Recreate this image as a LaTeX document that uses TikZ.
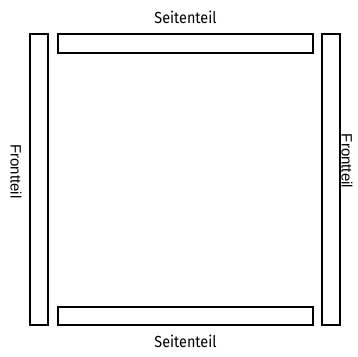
\documentclass[tikz,border=0pt]{standalone}
\usepackage{fontspec}
\setmainfont{Fira Sans}[FakeStretch = 0.9]
\newfontfamily\frontfont{Liberation Sans}
\tikzstyle{part}=[draw, line width = 1.4pt, inner sep = 0pt]
\tikzstyle{side}=[font = \fontsize{16}{18}\selectfont]
\tikzstyle{front}=[font = \frontfont\fontsize{15}{17}\selectfont, rotate = -90]

\begin{document}
\begin{tikzpicture}[x = 1pt, y = -1pt]
\useasboundingbox (0,0) rectangle (358,356);
\draw(39,179.5) node[part, minimum width = 18pt, minimum height = 291pt](frontL){};
\draw(331,179.5) node[part, minimum width = 18pt, minimum height = 291pt](frontR){};
%
\draw(185.5,43.5) node[part, minimum width = 255pt, minimum height = 19pt](sideT){};
\draw(185.5,316) node[part, minimum width = 255pt, minimum height = 18pt](sideB){};
%
\draw(185.5,17) node[side](labelT){Seitenteil};
\draw(185.5,341) node[side](labelB){Seitenteil};
\draw(16,171.5) node[front](labelL){Frontteil};
\draw(347,161) node[front](labelR){Frontteil};
\end{tikzpicture}
\end{document}
